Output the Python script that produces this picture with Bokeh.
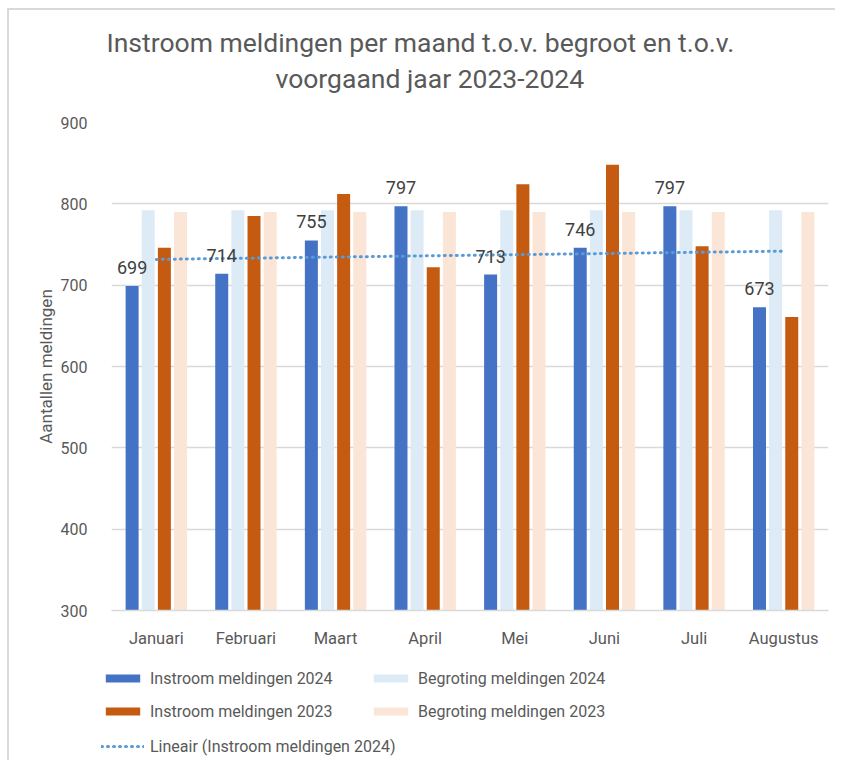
import numpy as np
from bokeh.plotting import figure
from bokeh.models import ColumnDataSource, Legend, LegendItem, LabelSet, Title, FixedTicker
from bokeh.core.properties import value
from bokeh.transform import dodge
from bokeh.embed import file_html
from bokeh.resources import INLINE

months = ["Januari", "Februari", "Maart", "April", "Mei", "Juni", "Juli", "Augustus"]
instroom_2024 = [699, 714, 755, 797, 713, 746, 797, 673]
begroting_2024 = [792, 792, 792, 792, 792, 792, 792, 792]
instroom_2023 = [746, 785, 812, 722, 824, 848, 748, 661]
begroting_2023 = [790, 790, 790, 790, 790, 790, 790, 790]
y_ticks = [300, 400, 500, 600, 700, 800, 900]
series_names = ["Instroom meldingen 2024", "Begroting meldingen 2024",
                "Instroom meldingen 2023", "Begroting meldingen 2023",
                "Lineair (Instroom meldingen 2024)"]
colors = ["#4472C4", "#DDEBF7", "#C55A11", "#FBE5D6", "#5B9BD5"]

# linear trend of 2024 inflow (Excel "Lineair" trendline)
xi = np.arange(1, len(months) + 1)
coef = np.polyfit(xi, instroom_2024, 1)
trend = list(np.polyval(coef, xi))

src = ColumnDataSource(dict(month=months, i24=instroom_2024, b24=begroting_2024,
                            i23=instroom_2023, b23=begroting_2023, trend=trend,
                            lab=[str(v) for v in instroom_2024]))

FONT = "Roboto"
GREY = "#595959"

p = figure(x_range=months, y_range=(300, 900), frame_width=717, frame_height=488,
           output_backend="svg", toolbar_location=None,
           min_border_left=102, min_border_right=7, min_border_top=112, min_border_bottom=50)
p.styles = {"border-top": "2px solid #d9d9d9", "border-left": "2px solid #d9d9d9",
            "margin-top": "8px", "margin-left": "7px"}
p.outline_line_color = None
p.background_fill_color = "white"

bw = 0.145
offsets = [-0.27, -0.09, 0.09, 0.27]
cols = ["i24", "b24", "i23", "b23"]
for off, c, col in zip(offsets, cols, colors[:4]):
    p.vbar(x=dodge("month", off, range=p.x_range), top=c, bottom=300, width=bw,
           source=src, fill_color=col, line_color=None)
p.line(x="month", y="trend", source=src, line_color=colors[4], line_width=3,
       line_dash="1 5", line_cap="round")

labels = LabelSet(x=dodge("month", -0.27, range=p.x_range), y="i24", text="lab", source=src,
                  text_align="center", text_baseline="bottom", y_offset=12,
                  text_font=value(FONT), text_font_size=value("18px"), text_color=value("#404040"))
p.add_layout(labels)

# axes
p.yaxis.ticker = FixedTicker(ticks=y_ticks)
p.yaxis.axis_line_color = None
p.yaxis.major_tick_line_color = None
p.yaxis.minor_tick_line_color = None
p.yaxis.major_label_text_font = FONT
p.yaxis.major_label_text_font_size = "16px"
p.yaxis.major_label_text_color = GREY
p.yaxis.major_label_standoff = 18
p.yaxis.axis_label = "Aantallen meldingen"
p.yaxis.axis_label_text_font = FONT
p.yaxis.axis_label_text_font_size = "17px"
p.yaxis.axis_label_text_font_style = "normal"
p.yaxis.axis_label_text_color = GREY
p.yaxis.axis_label_standoff = 2

p.xaxis.axis_line_color = "#d9d9d9"
p.xaxis.axis_line_width = 1.5
p.xaxis.major_tick_line_color = None
p.xaxis.minor_tick_line_color = None
p.xaxis.major_label_text_font = FONT
p.xaxis.major_label_text_font_size = "16.5px"
p.xaxis.major_label_text_color = GREY
p.xaxis.major_label_standoff = 12

p.xgrid.grid_line_color = None
p.ygrid.grid_line_color = "#d9d9d9"
p.ygrid.grid_line_width = 1.5

# titles: innermost first (spacer), then line 2, then line 1
spacer = Title(text=" ", align="left", text_font=FONT, text_font_size="22px", standoff=0)
t2 = Title(text="voorgaand jaar 2023-2024", align="left", offset=164, text_font=FONT,
           text_font_size="26.5px", text_font_style="normal", text_color=GREY, standoff=3)
t1 = Title(text="Instroom meldingen per maand t.o.v. begroot en t.o.v.", align="left",
           offset=-5, text_font=FONT, text_font_size="26.5px", text_font_style="normal",
           text_color=GREY, standoff=3)
p.add_layout(spacer, "above")
p.add_layout(t2, "above")
p.add_layout(t1, "above")

# legend strip (separate root so the legend is not clipped); its renderers use the
# same data but lie outside this strip's visible y-range, so only the legend shows
lf = figure(width=826, height=100, output_backend="svg", toolbar_location=None,
            x_axis_type=None, y_axis_type=None, x_range=months, y_range=(2000, 2100),
            min_border_left=0, min_border_right=0, min_border_top=0, min_border_bottom=0)
lf.styles = {"border-left": "2px solid #d9d9d9", "margin-left": "7px"}
lf.outline_line_color = None
lf.xgrid.grid_line_color = None
lf.ygrid.grid_line_color = None
sw = []
for c, col in zip(cols, colors[:4]):
    sw.append(lf.vbar(x="month", top=c, bottom=300, width=0.1, source=src,
                      fill_color=col, line_color=None))
sw.append(lf.line(x="month", y="trend", source=src, line_color=colors[4], line_width=3,
                  line_dash="1 5", line_cap="round"))


def style_legend(lg):
    lg.glyph_width = 43
    lg.glyph_height = 10
    lg.label_standoff = 6
    lg.label_width = 206
    lg.label_height = 20
    lg.spacing = 13
    lg.padding = 0
    lg.margin = 0
    lg.border_line_color = None
    lg.background_fill_alpha = 0
    lg.label_text_font = FONT
    lg.label_text_font_size = "16px"
    lg.label_text_color = GREY


legend_a = Legend(items=[LegendItem(label=series_names[i], renderers=[sw[i]]) for i in range(4)],
                  orientation="horizontal", ncols=2, location=(92, 39))
style_legend(legend_a)
legend_b = Legend(items=[LegendItem(label=series_names[4], renderers=[sw[4]])],
                  orientation="horizontal", location=(92, 4))
style_legend(legend_b)
lf.add_layout(legend_a, "center")
lf.add_layout(legend_b, "center")

open("out.html", "w").write(file_html([p, lf], INLINE))
